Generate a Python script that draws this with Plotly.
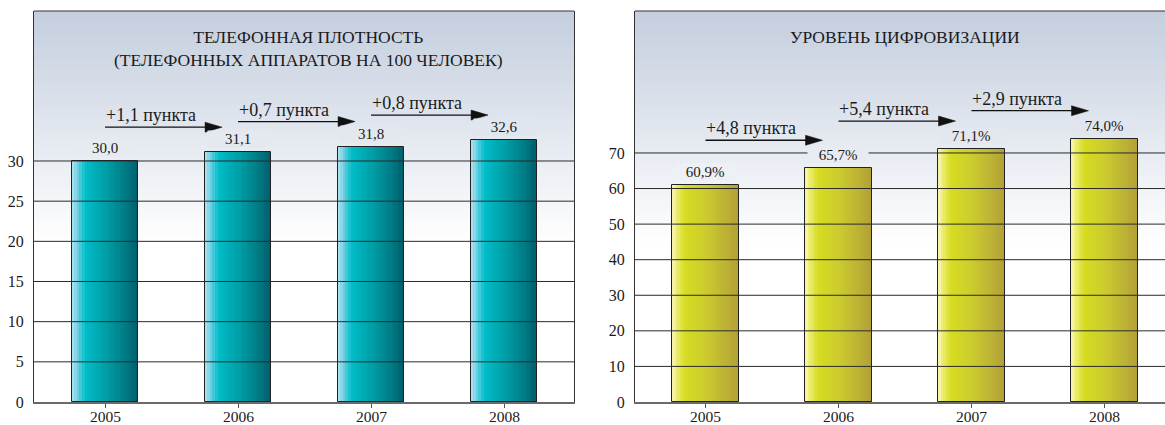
import plotly.graph_objects as go

# ---------------- data ----------------
years = ["2005", "2006", "2007", "2008"]
density = [30.0, 31.1, 31.8, 32.6]
digital = [60.9, 65.7, 71.1, 74.0]
density_labels = ["30,0", "31,1", "31,8", "32,6"]
digital_labels = ["60,9%", "65,7%", "71,1%", "74,0%"]
density_ticks = [0, 5, 10, 15, 20, 25, 30]
digital_ticks = [0, 10, 20, 30, 40, 50, 60, 70]
title_left = "ТЕЛЕФОННАЯ ПЛОТНОСТЬ<br>(ТЕЛЕФОННЫХ АППАРАТОВ НА 100 ЧЕЛОВЕК)"
title_right = "УРОВЕНЬ ЦИФРОВИЗАЦИИ"
unit_word = "пункта"

# ---------------- style ----------------
W, H = 1165, 425
FONT = "Liberation Serif, Times New Roman, serif"
TXT = "#1a1a1a"
teal_stops = [(0.0, (178, 228, 240)), (0.07, (130, 212, 232)), (0.2, (0, 190, 201)),
              (0.5, (0, 160, 168)), (0.8, (0, 124, 134)), (1.0, (0, 92, 106))]
yellow_stops = [(0.0, (250, 247, 185)), (0.07, (236, 236, 110)), (0.2, (214, 220, 32)),
                (0.5, (204, 204, 46)), (1.0, (178, 160, 56))]
BG_TOP = (196, 206, 222)
BG_WHITE_AT = 0.40
BAR_W = 0.5


def interp(stops, t):
    for (t0, c0), (t1, c1) in zip(stops[:-1], stops[1:]):
        if t <= t1:
            u = 0 if t1 == t0 else (t - t0) / (t1 - t0)
            return tuple(round(a + (b - a) * u) for a, b in zip(c0, c1))
    return stops[-1][1]


def rgb(c):
    return "rgb(%d,%d,%d)" % c


def bg_color(f):
    if f <= BG_WHITE_AT:
        return (255, 255, 255)
    u = min(1.0, (f - BG_WHITE_AT) / (1 - BG_WHITE_AT))
    return tuple(round(255 + (b - 255) * u) for b in BG_TOP)


fig = go.Figure()
shapes = []
annotations = []

YDOM = [23 / H, 414 / H]
panels = [
    dict(vals=density, labels=density_labels, ticks=density_ticks, stops=teal_stops,
         xa="x", ya="y", xdom=[34 / W, 574 / W], xr=[-0.534, 3.526], yr=[0, 48.67],
         title=title_left, tx=308 / W, ty=1 - 48.5 / H, arrow_px=25),
    dict(vals=digital, labels=digital_labels, ticks=digital_ticks, stops=yellow_stops,
         xa="x2", ya="y2", xdom=[635 / W, 1.0], xr=[-0.53, 3.455], yr=[0, 109.9],
         title=title_right, tx=905 / W, ty=1 - 37 / H, arrow_px=28),
]

N = 26
for p in panels:
    vals = p["vals"]
    idx = list(range(len(years)))
    step = BAR_W / N
    for k in range(N):
        t = (k + 0.5) / N
        wk = step * 1.35 if k < N - 1 else step
        fig.add_trace(go.Bar(
            x=years, y=vals, width=[wk] * len(years), offset=[-BAR_W / 2 + k * step] * len(years),
            marker=dict(color=rgb(interp(p["stops"], t)), line=dict(width=0)),
            xaxis=p["xa"], yaxis=p["ya"], hoverinfo="skip", showlegend=False))
    fig.add_trace(go.Bar(
        x=years, y=vals, width=[BAR_W] * len(years), offset=[-BAR_W / 2] * len(years),
        marker=dict(color="rgba(0,0,0,0)", line=dict(color="#222222", width=1)),
        xaxis=p["xa"], yaxis=p["ya"], hoverinfo="skip", showlegend=False))

    xref = p["xa"]
    yref = p["ya"]
    NB = 60
    for j in range(NB):
        f0 = BG_WHITE_AT + (1 - BG_WHITE_AT) * j / NB
        f1 = BG_WHITE_AT + (1 - BG_WHITE_AT) * (j + 1) / NB
        c = bg_color((f0 + f1) / 2)
        shapes.append(dict(type="rect", xref=xref + " domain", yref=yref + " domain",
                           x0=0, x1=1, y0=f0, y1=min(1.0, f1 + 0.002), layer="below",
                           fillcolor=rgb(c), line=dict(width=0)))
    for tv in p["ticks"][1:]:
        shapes.append(dict(type="line", xref=xref + " domain", yref=yref, x0=0, x1=1,
                           y0=tv, y1=tv, layer="above", line=dict(color="#2a2a2a", width=1)))
    shapes.append(dict(type="line", xref=xref + " domain", yref=yref + " domain", x0=0, x1=1,
                       y0=1, y1=1, layer="above", line=dict(color="#333333", width=1)))

    # category labels under the axis
    for i, yr_label in enumerate(years):
        annotations.append(dict(x=idx[i], y=0, xref=xref, yref=yref, text=yr_label, showarrow=False,
                                yanchor="middle", yshift=-14, borderpad=0,
                                font=dict(family=FONT, size=15.5, color=TXT)))

    ymax = p["yr"][1]
    plot_h = (YDOM[1] - YDOM[0]) * H
    for i, (v, lab) in enumerate(zip(vals, p["labels"])):
        f = v / ymax + 13 / plot_h
        annotations.append(dict(x=idx[i], y=v, xref=xref, yref=yref, text=lab, showarrow=False,
                                yanchor="middle", yshift=13,
                                font=dict(family=FONT, size=15, color=TXT),
                                bgcolor=rgb(bg_color(f)), width=60, borderpad=0))

    ap = p["arrow_px"]
    for i in range(len(vals) - 1):
        d = round(vals[i + 1] - vals[i], 1)
        txt = ("+%.1f" % d).replace(".", ",") + " " + unit_word
        v2 = vals[i + 1]
        head_x = i + 0.88
        shapes.append(dict(type="line", xref=xref, yref=yref, ysizemode="pixel", yanchor=v2,
                           x0=i, x1=head_x - 0.1, y0=ap, y1=ap, layer="above",
                           line=dict(color="#111111", width=1.3)))
        shapes.append(dict(type="path", xref=xref, yref=yref, xsizemode="pixel", ysizemode="pixel",
                           xanchor=head_x, yanchor=v2,
                           path="M-17,%g L0,%g L-17,%g Z" % (ap - 5, ap, ap + 5),
                           layer="above", fillcolor="#111111", line=dict(color="#111111", width=0.5)))
        annotations.append(dict(x=i, y=v2, xref=xref, yref=yref, text=txt, showarrow=False,
                                xanchor="left", yanchor="middle", yshift=ap + 12, xshift=-1,
                                font=dict(family=FONT, size=18, color=TXT)))

    annotations.append(dict(x=p["tx"], y=p["ty"], xref="paper", yref="paper", text=p["title"],
                            showarrow=False, xanchor="center", yanchor="middle",
                            font=dict(family=FONT, size=17.5, color=TXT)))

axis_common_x = dict(type="category", showline=True, linecolor="#6a6a6a", linewidth=1.5,
                     ticks="outside", ticklen=4, tickcolor="#555555", tickwidth=1,
                     showticklabels=False, showgrid=False,
                     zeroline=False, fixedrange=True, automargin=False)
axis_common_y = dict(showline=True, linecolor="#333333", linewidth=1, ticks="",
                     tickfont=dict(family=FONT, size=16, color=TXT), showgrid=False,
                     zeroline=False, fixedrange=True, domain=YDOM, ticklabelstandoff=6,
                     automargin=False)

fig.update_layout(
    width=W, height=H, autosize=False,
    margin=dict(l=0, r=0, t=0, b=0, autoexpand=False),
    paper_bgcolor="white", plot_bgcolor="white",
    font=dict(family=FONT, color=TXT),
    barmode="overlay", bargap=0,
    showlegend=False,
    xaxis=dict(axis_common_x, domain=panels[0]["xdom"], range=panels[0]["xr"], anchor="y"),
    yaxis=dict(axis_common_y, range=panels[0]["yr"], tickvals=density_ticks, mirror=True, anchor="x"),
    xaxis2=dict(axis_common_x, domain=panels[1]["xdom"], range=panels[1]["xr"], anchor="y2"),
    yaxis2=dict(axis_common_y, range=panels[1]["yr"], tickvals=digital_ticks, mirror=False, anchor="x2"),
    shapes=shapes,
    annotations=annotations,
)

post = (
    "document.body.style.margin='0px';"
    "document.body.style.overflow='hidden';"
)

fig.write_html(
    "out.html",
    config={"responsive": False, "displayModeBar": False},
    post_script=post,
)
